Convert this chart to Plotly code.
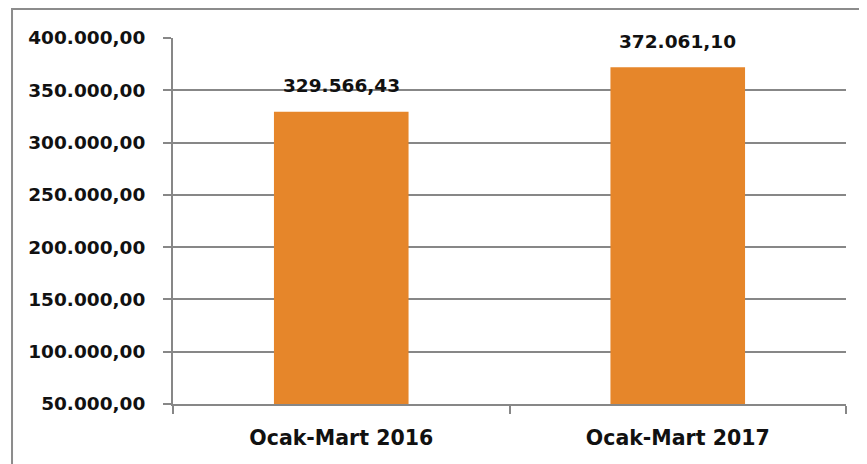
import plotly.graph_objects as go

categories = ["Ocak-Mart 2016", "Ocak-Mart 2017"]
values = [329566.43, 372061.10]
y_ticks = [50000, 100000, 150000, 200000, 250000, 300000, 350000, 400000]


def tr_fmt(v):
    s = f"{v:,.2f}"
    return s.replace(",", "X").replace(".", ",").replace("X", ".")


tick_text = [tr_fmt(v) for v in y_ticks]
label_text = [tr_fmt(v) for v in values]

GRAY = "#878787"
FONT = "DejaVu Sans"

fig = go.Figure()
fig.add_trace(go.Bar(
    x=categories, y=values,
    marker=dict(color="#E6862A", line=dict(width=0)),
    width=0.4,
    hoverinfo="skip",
))

for c, v, t in zip(categories, values, label_text):
    fig.add_annotation(x=c, y=v, text=f"<b>{t}</b>", showarrow=False,
                       yanchor="middle", yshift=26,
                       font=dict(family=FONT, size=18.5, color="#111111"))

fig.add_shape(type="rect", xref="paper", yref="paper",
              x0=-0.2392, x1=1.2, y0=-0.3, y1=1.079,
              line=dict(color="#8c8c8c", width=2), layer="below")

fig.update_layout(
    width=859, height=456,
    margin=dict(l=165, r=21, t=30, b=60),
    paper_bgcolor="white", plot_bgcolor="white",
    showlegend=False,
    bargap=0.6,
    xaxis=dict(
        type="category",
        showline=True, linecolor=GRAY, linewidth=2,
        ticks="outside", ticklen=8, tickcolor=GRAY, tickwidth=1.5,
        tickson="boundaries",
        showgrid=False,
        tickfont=dict(family=FONT, size=20.5, color="#111111"),
        ticklabelstandoff=14,
        tickvals=categories,
        ticktext=[f"<b>{c}</b>" for c in categories],
    ),
    yaxis=dict(
        range=[50000, 400000],
        tickvals=y_ticks, ticktext=[f"<b>{t}</b>" for t in tick_text],
        showline=True, linecolor=GRAY, linewidth=2,
        ticks="outside", ticklen=8, tickcolor=GRAY, tickwidth=1.5,
        showgrid=True, gridcolor=GRAY, gridwidth=1.5,
        zeroline=False,
        tickfont=dict(family=FONT, size=18.5, color="#111111"),
        ticklabelstandoff=14,
    ),
)

fig.write_html("out.html")
